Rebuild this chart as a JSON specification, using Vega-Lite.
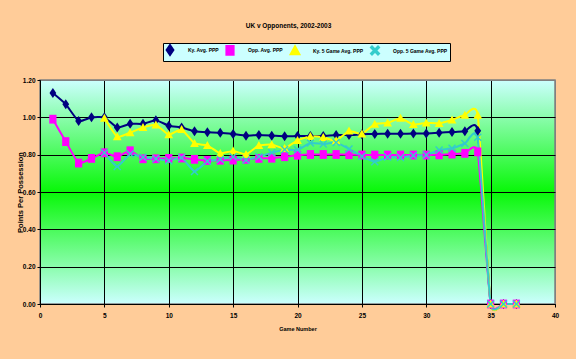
{
  "$schema": "https://vega.github.io/schema/vega-lite/v6.json",
  "width": 515,
  "height": 224,
  "autosize": {"type": "none"},
  "padding": {"left": 40, "top": 80, "right": 21, "bottom": 55},
  "background": "#FFCC99",
  "title": {"text": "UK v Opponents, 2002-2003", "anchor": "middle", "frame": "group", "dx": -9, "offset": 13, "fontSize": 6.5, "fontWeight": "bold", "font": "Liberation Sans", "color": "black"},
  "config": {
    "font": "Liberation Sans",
    "view": {
      "fill": {"gradient": "linear", "x1": 0, "y1": 0, "x2": 0, "y2": 1, "stops": [{"offset": 0, "color": "#CCFFFF"}, {"offset": 0.5, "color": "#08F808"}, {"offset": 1, "color": "#CCFFFF"}]},
      "stroke": "#808080",
      "strokeWidth": 1.5
    }
  },
  "data": {"values": [
    {"game": 1, "series": "Ky. Avg. PPP", "ppp": 1.13},
    {"game": 2, "series": "Ky. Avg. PPP", "ppp": 1.07},
    {"game": 3, "series": "Ky. Avg. PPP", "ppp": 0.98},
    {"game": 4, "series": "Ky. Avg. PPP", "ppp": 1.0},
    {"game": 5, "series": "Ky. Avg. PPP", "ppp": 1.0},
    {"game": 6, "series": "Ky. Avg. PPP", "ppp": 0.945},
    {"game": 7, "series": "Ky. Avg. PPP", "ppp": 0.965},
    {"game": 8, "series": "Ky. Avg. PPP", "ppp": 0.965},
    {"game": 9, "series": "Ky. Avg. PPP", "ppp": 0.985},
    {"game": 10, "series": "Ky. Avg. PPP", "ppp": 0.955},
    {"game": 11, "series": "Ky. Avg. PPP", "ppp": 0.945},
    {"game": 12, "series": "Ky. Avg. PPP", "ppp": 0.925},
    {"game": 13, "series": "Ky. Avg. PPP", "ppp": 0.92},
    {"game": 14, "series": "Ky. Avg. PPP", "ppp": 0.918},
    {"game": 15, "series": "Ky. Avg. PPP", "ppp": 0.911},
    {"game": 16, "series": "Ky. Avg. PPP", "ppp": 0.902},
    {"game": 17, "series": "Ky. Avg. PPP", "ppp": 0.905},
    {"game": 18, "series": "Ky. Avg. PPP", "ppp": 0.902},
    {"game": 19, "series": "Ky. Avg. PPP", "ppp": 0.898},
    {"game": 20, "series": "Ky. Avg. PPP", "ppp": 0.9},
    {"game": 21, "series": "Ky. Avg. PPP", "ppp": 0.9},
    {"game": 22, "series": "Ky. Avg. PPP", "ppp": 0.9},
    {"game": 23, "series": "Ky. Avg. PPP", "ppp": 0.905},
    {"game": 24, "series": "Ky. Avg. PPP", "ppp": 0.905},
    {"game": 25, "series": "Ky. Avg. PPP", "ppp": 0.909},
    {"game": 26, "series": "Ky. Avg. PPP", "ppp": 0.911},
    {"game": 27, "series": "Ky. Avg. PPP", "ppp": 0.912},
    {"game": 28, "series": "Ky. Avg. PPP", "ppp": 0.912},
    {"game": 29, "series": "Ky. Avg. PPP", "ppp": 0.913},
    {"game": 30, "series": "Ky. Avg. PPP", "ppp": 0.914},
    {"game": 31, "series": "Ky. Avg. PPP", "ppp": 0.918},
    {"game": 32, "series": "Ky. Avg. PPP", "ppp": 0.921},
    {"game": 33, "series": "Ky. Avg. PPP", "ppp": 0.926},
    {"game": 34, "series": "Ky. Avg. PPP", "ppp": 0.928},
    {"game": 35, "series": "Ky. Avg. PPP", "ppp": 0},
    {"game": 36, "series": "Ky. Avg. PPP", "ppp": 0},
    {"game": 37, "series": "Ky. Avg. PPP", "ppp": 0},
    {"game": 1, "series": "Opp. Avg. PPP", "ppp": 0.99},
    {"game": 2, "series": "Opp. Avg. PPP", "ppp": 0.87},
    {"game": 3, "series": "Opp. Avg. PPP", "ppp": 0.755},
    {"game": 4, "series": "Opp. Avg. PPP", "ppp": 0.78},
    {"game": 5, "series": "Opp. Avg. PPP", "ppp": 0.81},
    {"game": 6, "series": "Opp. Avg. PPP", "ppp": 0.789},
    {"game": 7, "series": "Opp. Avg. PPP", "ppp": 0.821},
    {"game": 8, "series": "Opp. Avg. PPP", "ppp": 0.778},
    {"game": 9, "series": "Opp. Avg. PPP", "ppp": 0.778},
    {"game": 10, "series": "Opp. Avg. PPP", "ppp": 0.78},
    {"game": 11, "series": "Opp. Avg. PPP", "ppp": 0.782},
    {"game": 12, "series": "Opp. Avg. PPP", "ppp": 0.775},
    {"game": 13, "series": "Opp. Avg. PPP", "ppp": 0.769},
    {"game": 14, "series": "Opp. Avg. PPP", "ppp": 0.77},
    {"game": 15, "series": "Opp. Avg. PPP", "ppp": 0.771},
    {"game": 16, "series": "Opp. Avg. PPP", "ppp": 0.775},
    {"game": 17, "series": "Opp. Avg. PPP", "ppp": 0.78},
    {"game": 18, "series": "Opp. Avg. PPP", "ppp": 0.781},
    {"game": 19, "series": "Opp. Avg. PPP", "ppp": 0.789},
    {"game": 20, "series": "Opp. Avg. PPP", "ppp": 0.797},
    {"game": 21, "series": "Opp. Avg. PPP", "ppp": 0.801},
    {"game": 22, "series": "Opp. Avg. PPP", "ppp": 0.801},
    {"game": 23, "series": "Opp. Avg. PPP", "ppp": 0.801},
    {"game": 24, "series": "Opp. Avg. PPP", "ppp": 0.8},
    {"game": 25, "series": "Opp. Avg. PPP", "ppp": 0.798},
    {"game": 26, "series": "Opp. Avg. PPP", "ppp": 0.798},
    {"game": 27, "series": "Opp. Avg. PPP", "ppp": 0.798},
    {"game": 28, "series": "Opp. Avg. PPP", "ppp": 0.798},
    {"game": 29, "series": "Opp. Avg. PPP", "ppp": 0.798},
    {"game": 30, "series": "Opp. Avg. PPP", "ppp": 0.798},
    {"game": 31, "series": "Opp. Avg. PPP", "ppp": 0.799},
    {"game": 32, "series": "Opp. Avg. PPP", "ppp": 0.803},
    {"game": 33, "series": "Opp. Avg. PPP", "ppp": 0.807},
    {"game": 34, "series": "Opp. Avg. PPP", "ppp": 0.815},
    {"game": 35, "series": "Opp. Avg. PPP", "ppp": 0},
    {"game": 36, "series": "Opp. Avg. PPP", "ppp": 0},
    {"game": 37, "series": "Opp. Avg. PPP", "ppp": 0},
    {"game": 5, "series": "Ky. 5 Game Avg. PPP", "ppp": 0.995},
    {"game": 6, "series": "Ky. 5 Game Avg. PPP", "ppp": 0.896},
    {"game": 7, "series": "Ky. 5 Game Avg. PPP", "ppp": 0.918},
    {"game": 8, "series": "Ky. 5 Game Avg. PPP", "ppp": 0.946},
    {"game": 9, "series": "Ky. 5 Game Avg. PPP", "ppp": 0.96},
    {"game": 10, "series": "Ky. 5 Game Avg. PPP", "ppp": 0.907},
    {"game": 11, "series": "Ky. 5 Game Avg. PPP", "ppp": 0.935},
    {"game": 12, "series": "Ky. 5 Game Avg. PPP", "ppp": 0.86},
    {"game": 13, "series": "Ky. 5 Game Avg. PPP", "ppp": 0.85},
    {"game": 14, "series": "Ky. 5 Game Avg. PPP", "ppp": 0.807},
    {"game": 15, "series": "Ky. 5 Game Avg. PPP", "ppp": 0.82},
    {"game": 16, "series": "Ky. 5 Game Avg. PPP", "ppp": 0.802},
    {"game": 17, "series": "Ky. 5 Game Avg. PPP", "ppp": 0.849},
    {"game": 18, "series": "Ky. 5 Game Avg. PPP", "ppp": 0.854},
    {"game": 19, "series": "Ky. 5 Game Avg. PPP", "ppp": 0.834},
    {"game": 20, "series": "Ky. 5 Game Avg. PPP", "ppp": 0.877},
    {"game": 21, "series": "Ky. 5 Game Avg. PPP", "ppp": 0.898},
    {"game": 22, "series": "Ky. 5 Game Avg. PPP", "ppp": 0.893},
    {"game": 23, "series": "Ky. 5 Game Avg. PPP", "ppp": 0.875},
    {"game": 24, "series": "Ky. 5 Game Avg. PPP", "ppp": 0.927},
    {"game": 25, "series": "Ky. 5 Game Avg. PPP", "ppp": 0.911},
    {"game": 26, "series": "Ky. 5 Game Avg. PPP", "ppp": 0.964},
    {"game": 27, "series": "Ky. 5 Game Avg. PPP", "ppp": 0.97},
    {"game": 28, "series": "Ky. 5 Game Avg. PPP", "ppp": 0.995},
    {"game": 29, "series": "Ky. 5 Game Avg. PPP", "ppp": 0.962},
    {"game": 30, "series": "Ky. 5 Game Avg. PPP", "ppp": 0.97},
    {"game": 31, "series": "Ky. 5 Game Avg. PPP", "ppp": 0.968},
    {"game": 32, "series": "Ky. 5 Game Avg. PPP", "ppp": 0.986},
    {"game": 33, "series": "Ky. 5 Game Avg. PPP", "ppp": 1.012},
    {"game": 34, "series": "Ky. 5 Game Avg. PPP", "ppp": 1.012},
    {"game": 35, "series": "Ky. 5 Game Avg. PPP", "ppp": 0},
    {"game": 36, "series": "Ky. 5 Game Avg. PPP", "ppp": 0},
    {"game": 37, "series": "Ky. 5 Game Avg. PPP", "ppp": 0},
    {"game": 5, "series": "Opp. 5 Game Avg. PPP", "ppp": 0.81},
    {"game": 6, "series": "Opp. 5 Game Avg. PPP", "ppp": 0.736},
    {"game": 7, "series": "Opp. 5 Game Avg. PPP", "ppp": 0.803},
    {"game": 8, "series": "Opp. 5 Game Avg. PPP", "ppp": 0.786},
    {"game": 9, "series": "Opp. 5 Game Avg. PPP", "ppp": 0.778},
    {"game": 10, "series": "Opp. 5 Game Avg. PPP", "ppp": 0.767},
    {"game": 11, "series": "Opp. 5 Game Avg. PPP", "ppp": 0.783},
    {"game": 12, "series": "Opp. 5 Game Avg. PPP", "ppp": 0.71},
    {"game": 13, "series": "Opp. 5 Game Avg. PPP", "ppp": 0.765},
    {"game": 14, "series": "Opp. 5 Game Avg. PPP", "ppp": 0.775},
    {"game": 15, "series": "Opp. 5 Game Avg. PPP", "ppp": 0.789},
    {"game": 16, "series": "Opp. 5 Game Avg. PPP", "ppp": 0.771},
    {"game": 17, "series": "Opp. 5 Game Avg. PPP", "ppp": 0.789},
    {"game": 18, "series": "Opp. 5 Game Avg. PPP", "ppp": 0.81},
    {"game": 19, "series": "Opp. 5 Game Avg. PPP", "ppp": 0.828},
    {"game": 20, "series": "Opp. 5 Game Avg. PPP", "ppp": 0.826},
    {"game": 21, "series": "Opp. 5 Game Avg. PPP", "ppp": 0.862},
    {"game": 22, "series": "Opp. 5 Game Avg. PPP", "ppp": 0.857},
    {"game": 23, "series": "Opp. 5 Game Avg. PPP", "ppp": 0.865},
    {"game": 24, "series": "Opp. 5 Game Avg. PPP", "ppp": 0.831},
    {"game": 25, "series": "Opp. 5 Game Avg. PPP", "ppp": 0.792},
    {"game": 26, "series": "Opp. 5 Game Avg. PPP", "ppp": 0.762},
    {"game": 27, "series": "Opp. 5 Game Avg. PPP", "ppp": 0.787},
    {"game": 28, "series": "Opp. 5 Game Avg. PPP", "ppp": 0.785},
    {"game": 29, "series": "Opp. 5 Game Avg. PPP", "ppp": 0.795},
    {"game": 30, "series": "Opp. 5 Game Avg. PPP", "ppp": 0.798},
    {"game": 31, "series": "Opp. 5 Game Avg. PPP", "ppp": 0.825},
    {"game": 32, "series": "Opp. 5 Game Avg. PPP", "ppp": 0.834},
    {"game": 33, "series": "Opp. 5 Game Avg. PPP", "ppp": 0.86},
    {"game": 34, "series": "Opp. 5 Game Avg. PPP", "ppp": 0.893},
    {"game": 35, "series": "Opp. 5 Game Avg. PPP", "ppp": 0},
    {"game": 36, "series": "Opp. 5 Game Avg. PPP", "ppp": 0},
    {"game": 37, "series": "Opp. 5 Game Avg. PPP", "ppp": 0}
  ]},
  "transform": [{"calculate": "datum.series", "as": "marker"}],
  "encoding": {
    "x": {"field": "game", "type": "quantitative", "scale": {"domain": [0, 40], "nice": false},
      "axis": {"values": [0, 5, 10, 15, 20, 25, 30, 35, 40], "format": "d", "title": "Game Number", "titleFontSize": 5.5, "titleFontWeight": "bold", "titleColor": "black", "titlePadding": 8, "labelFontSize": 6.5, "labelFontWeight": "bold", "labelColor": "black", "labelPadding": 5, "tickSize": 3, "tickColor": "black", "domainColor": "black", "grid": true, "gridColor": {"condition": {"test": "datum.value >= 39.9", "value": "#808080"}, "value": "black"}, "gridOpacity": 1, "labelFlush": false}},
    "y": {"field": "ppp", "type": "quantitative", "scale": {"domain": [0, 1.2], "nice": false},
      "axis": {"values": [0, 0.2, 0.4, 0.6, 0.8, 1.0, 1.2], "format": ".2f", "title": "Points Per Possession", "titleFontSize": 7.5, "titleFontWeight": "bold", "titleColor": "black", "titlePadding": -2, "labelFontSize": 6.5, "labelFontWeight": "bold", "labelColor": "black", "labelPadding": 2, "tickSize": 3, "tickColor": "black", "domainColor": "black", "grid": true, "gridColor": {"condition": {"test": "datum.value >= 1.19", "value": "#808080"}, "value": "black"}, "gridOpacity": 1, "labelFlush": false}}
  },
  "layer": [
    {
      "mark": {"type": "line", "interpolate": "cardinal", "tension": 0.55, "strokeWidth": 2},
      "encoding": {
        "stroke": {"field": "series", "type": "nominal",
          "scale": {"domain": ["Ky. Avg. PPP", "Opp. Avg. PPP", "Ky. 5 Game Avg. PPP", "Opp. 5 Game Avg. PPP"], "range": ["#000080", "#FF00FF", "#FFFF00", "#33CCCC"]},
          "legend": {"orient": "none", "legendX": 123, "legendY": -37, "direction": "horizontal", "title": null, "fillColor": "#CCFFFF", "strokeColor": "black", "padding": 2, "symbolSize": 64, "labelOffset": 13, "columnPadding": 3, "labelFontSize": 5, "labelFontWeight": "bold", "labelColor": "black", "symbolStrokeWidth": 2,
            "encode": {"symbols": {"update": {
              "shape": {"value": {"expr": "datum.value === 'Ky. Avg. PPP' ? 'M-1,0L4.25,0M1.625,-1.25L2.475,0L1.625,1.25L0.775,0Z' : datum.value === 'Opp. Avg. PPP' ? 'M-1,0L4.25,0M0.725,-1.1L2.525,-1.1L2.525,1.1L0.725,1.1Z' : datum.value === 'Ky. 5 Game Avg. PPP' ? 'M-1,0L4.25,0M1.625,-1.1L2.725,0.9L0.525,0.9Z' : 'M-1,0L4.25,0M0.625,-1L2.625,1M0.625,1L2.625,-1'"}},
              "fill": {"value": {"expr": "scale('stroke', datum.value)"}},
              "strokeWidth": {"value": 2},
              "opacity": {"value": 1}
            }}}
          }
        }
      }
    },
    {
      "mark": {"type": "point", "filled": true, "size": 64, "opacity": 1},
      "encoding": {
        "fill": {"field": "marker", "type": "nominal", "legend": null,
          "scale": {"domain": ["Ky. Avg. PPP", "Opp. Avg. PPP", "Ky. 5 Game Avg. PPP", "Opp. 5 Game Avg. PPP"], "range": ["#000080", "#FF00FF", "#FFFF00", "#33CCCC"]}},
        "shape": {"field": "marker", "type": "nominal", "legend": null,
          "scale": {"domain": ["Ky. Avg. PPP", "Opp. Avg. PPP", "Ky. 5 Game Avg. PPP", "Opp. 5 Game Avg. PPP"], "range": ["M0,-1.25L0.85,0L0,1.25L-0.85,0Z", "M-0.9,-1.1L0.9,-1.1L0.9,1.1L-0.9,1.1Z", "M0,-1.1L1.1,0.9L-1.1,0.9Z", "M-1,-0.75L-0.75,-1L0,-0.25L0.75,-1L1,-0.75L0.25,0L1,0.75L0.75,1L0,0.25L-0.75,1L-1,0.75L-0.25,0Z"]}}
      }
    }
  ]
}
